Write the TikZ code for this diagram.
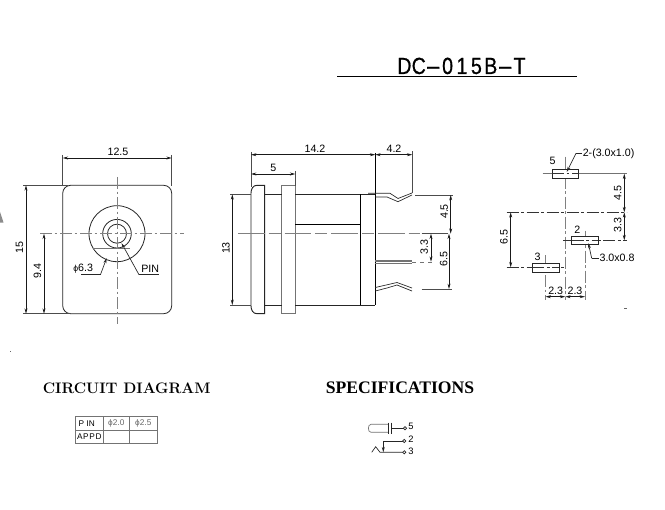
\documentclass[tikz,border=0pt]{standalone}
\usepackage{fontspec}
\setmainfont{Liberation Sans}
\newfontfamily\serifb{Liberation Serif}
\newfontfamily\lmb{Latin Modern Roman}
\newfontfamily\titlef[FakeStretch=0.84,FakeBold=0.6]{Liberation Sans}
\usetikzlibrary{arrows.meta}
\newcommand{\mch}[1]{\makebox[10.8pt]{#1}}
\newcommand{\mhy}{\makebox[10.8pt]{\scalebox{2.5}[1]{-}}}
\tikzset{
  outline/.style={draw=black!85,line width=0.6pt},
  softline/.style={draw=black!55,line width=0.7pt},
  thin ext/.style={draw=black!70,line width=0.5pt},
  center line/.style={draw=black!50,line width=0.7pt,dash pattern=on 9pt off 2pt on 2pt off 2pt},
  long center/.style={draw=black!50,line width=0.7pt,dash pattern=on 20pt off 3pt on 9pt off 3pt},
  fine center/.style={draw=black!80,line width=0.5pt,dash pattern=on 9pt off 2pt on 2pt off 2pt},
  dimline/.style={draw=black!90,line width=0.55pt,{Stealth[length=4pt,width=2.2pt]}-{Stealth[length=4pt,width=2.2pt]}},
  leader/.style={draw=black!85,line width=0.5pt},
  leadertip/.style={draw=black!85,line width=0.5pt,-{Stealth[length=4pt,width=2.2pt]}},
  lab/.style={inner sep=0pt,font=\fontsize{8}{8}\selectfont,text=black},
  vlab/.style={lab,rotate=90},
  tablab/.style={inner sep=0pt,font=\fontsize{6.2}{6.2}\selectfont,text=black},
  tablabg/.style={tablab,text=black!60},
  symlab/.style={inner sep=0pt,font=\fontsize{7}{7}\selectfont,text=black},
  terminal/.style={draw=black!85,line width=0.5pt,fill=white}
}
\begin{document}
\begin{tikzpicture}[x=0.75pt,y=-0.75pt]
\useasboundingbox (0,0) rectangle (665,510);
\fill[white] (0,0) rectangle (665,510);

% title
\node[inner sep=0pt,anchor=base,font=\titlef\fontsize{17.5}{17.5}\selectfont] (title) at (462,74) {\mch{D}\mch{C}\mhy\mch{0}\mch{1}\mch{5}\mch{B}\mhy\mch{T}};
\draw[draw=black,line width=0.6pt] (337,76.3) -- (577,76.3);

% stray marks
\fill[black!45] (0,212) -- (3.5,222.5) -- (0,222.5) -- cycle;
\fill[black!60] (10.4,351.4) rectangle (11.2,352.1);
\draw[black!60,line width=0.4pt] (624,308.3) -- (626.5,308.3);

% ===== front view
\draw[outline,rounded corners=6pt] (62.7,185.3) rectangle (171.7,313.7);
\draw[outline] (117,233.7) circle[radius=28];
\draw[outline] (117,233.7) circle[radius=14.3];
\draw[outline] (117,233.7) circle[radius=9.5];
\draw[softline,line width=0.9pt] (93,248.3) -- (130,248.3);
\draw[center line] (40,233.7) -- (184,233.7);
\draw[center line] (117,177) -- (117,324);
% dims
\draw[thin ext] (62.7,155) -- (62.7,186);
\draw[thin ext] (171.7,155) -- (171.7,186);
\draw[thin ext] (23,185.3) -- (68,185.3);
\draw[thin ext] (23,313.7) -- (70,313.7);
\draw[dimline] (62.7,158) -- (171.7,158);
\draw[dimline] (26,185.3) -- (26,313.7);
\draw[dimline] (44,233.7) -- (44,313.7);
\node[lab] (fw) at (118,152) {12.5};
\node[vlab] (fh) at (19.5,247.5) {15};
\node[vlab] (fc) at (37.5,271) {9.4};
\node[lab,anchor=west] (fphi) at (73,269) {{\fontsize{6.5}{6.5}\selectfont ϕ}6.3};
\node[lab,anchor=west] (fpin) at (141,269) {PIN};
\draw[leader] (81,274) -- (100.7,274);
\draw[leadertip] (100.7,274) -- (106.7,258);
\draw[leader] (139,274.7) -- (158.5,274.7);
\draw[leadertip] (139,274.7) -- (121.5,243);

% ===== side view
\draw[outline,line width=0.7pt] (264.7,185.3) -- (257,185.3) .. controls (253,185.3) and (251,189) .. (251,193) -- (251,306) .. controls (251,310) and (253,313.7) .. (257,313.7) -- (264.7,313.7) -- cycle;
\draw[softline] (281.7,185.3) rectangle (295.3,313.7);
\draw[outline] (264.7,194.3) -- (281.7,194.3);
\draw[outline] (264.7,305) -- (281.7,305);
\draw[outline] (295.3,194.3) -- (375.3,194.3);
\draw[outline] (295.3,305) -- (375.3,305);
\draw[draw=black,line width=0.7pt] (375.3,153) -- (375.3,305);
\draw[draw=black,line width=0.7pt] (360.7,194.3) -- (360.7,305);
\draw[draw=black,line width=0.7pt] (295.3,224.3) -- (360.7,224.3);
\draw[long center] (238,233.7) -- (420,233.7);
% pins
\draw[leader] (368,193.3) -- (390,193.3) -- (398,198.5) -- (412,193);
\draw[leader] (375.3,197) -- (387,197) -- (398,201.7) -- (412,195);
\draw[softline,line width=0.8pt] (375.3,261) -- (412.3,261);
\draw[softline,line width=0.8pt] (375.3,263.8) -- (412.3,263.8);
\draw[softline,dashed,line width=0.5pt] (412.3,262) -- (435,262);
\draw[leader] (375.3,287.5) -- (397,282.5) -- (412,288);
\draw[leader] (375.3,291) -- (387,288) -- (397,285) -- (412,291);
% dims
\draw[thin ext] (251,152) -- (251,187);
\draw[thin ext] (295.3,171) -- (295.3,186);
\draw[thin ext] (412.3,151.5) -- (412.3,193);
\draw[thin ext] (230,194.3) -- (251,194.3);
\draw[thin ext] (230,305) -- (251,305);
\draw[thin ext] (415,195) -- (453,195);
\draw[thin ext] (421.7,289) -- (452,289);
\draw[draw=black!70,line width=0.9pt] (421.5,233.7) -- (448,233.7);
\draw[dimline] (251,154.7) -- (375.3,154.7);
\draw[dimline] (375.3,154.7) -- (412.3,154.7);
\draw[dimline] (251,174) -- (295.3,174);
\draw[dimline] (232.3,194.3) -- (232.3,305);
\draw[dimline] (450.7,195) -- (450.7,233.7);
\draw[dimline] (449,233.7) -- (449,289);
\draw[dimline] (431,233.7) -- (431,261.7);
\node[lab] (s142) at (315,148.3) {14.2};
\node[lab] (s42) at (394,148.3) {4.2};
\node[lab] (s5) at (273.3,168) {5};
\node[vlab] (s13) at (226,248) {13};
\node[vlab] (s45) at (444.3,211.5) {4.5};
\node[vlab] (s33) at (424.3,247.3) {3.3};
\node[vlab] (s65) at (443.7,259.3) {6.5};

% ===== footprint
\draw[center line] (565.3,156.7) -- (565.3,300);
\draw[center line] (585,230.7) -- (585,300);
\draw[center line] (545.5,255) -- (545.5,300);
\draw[softline] (542.7,173.7) -- (552,173.7);
\draw[softline] (578.7,173.7) -- (626.7,173.7);
\draw[fine center] (506.7,212.3) -- (626.7,212.3);
\draw[fine center] (563.3,240.3) -- (626.7,240.3);
\draw[fine center] (506.7,267.3) -- (566,267.3);
\draw[outline,fill=white] (552,169.3) rectangle (578.7,178.3);
\draw[outline,fill=white] (571.7,236.7) rectangle (598.3,244);
\draw[outline,fill=white] (532.3,263.3) rectangle (559,272);
\draw[fine center] (552,173.7) -- (578.7,173.7);
\draw[fine center] (571.7,240.3) -- (598.3,240.3);
\draw[fine center] (532.3,267.5) -- (559,267.5);
\draw[dimline] (624.3,173.7) -- (624.3,212.3);
\draw[dimline] (624.3,212.3) -- (624.3,240.3);
\draw[dimline] (510.7,212.3) -- (510.7,267.3);
\draw[dimline] (545.5,296.7) -- (565.3,296.7);
\draw[dimline] (565.3,296.7) -- (585,296.7);
\node[lab] (p5) at (552.7,161) {5};
\node[lab] (p2) at (577.3,229.3) {2};
\node[lab] (p3) at (537.7,256.7) {3};
\node[lab,anchor=west] (psz) at (582.5,153.3) {2-(3.0x1.0)};
\node[lab,anchor=west] (psy) at (599.3,258.3) {3.0x0.8};
\draw[leader] (582,153.3) -- (576,153.3);
\draw[leadertip] (576,153.3) -- (566.7,172);
\draw[leader] (599,258.3) -- (591.7,258.3);
\draw[leadertip] (591.7,258.3) -- (588.3,243);
\node[vlab] (d45) at (617.7,192.7) {4.5};
\node[vlab] (d33) at (617.7,225) {3.3};
\node[vlab] (d65) at (504,237.3) {6.5};
\node[lab] (d23a) at (555.7,290.7) {2.3};
\node[lab] (d23b) at (575,290.7) {2.3};

% ===== headings
\node[inner sep=0pt,font=\lmb\fontsize{11.4}{11.4}\selectfont\bfseries] (hc) at (126.7,388) {CIRCUIT DIAGRAM};
\node[inner sep=0pt,font=\serifb\fontsize{13.2}{13.2}\selectfont\bfseries] (hs) at (400,388) {SPECIFICATIONS};

% ===== table
\draw[softline] (75.7,416.7) rectangle (157.7,443.7);
\draw[softline] (75.7,430) -- (157.7,430);
\draw[softline] (103.3,416.7) -- (103.3,443.7);
\draw[softline] (129.3,416.7) -- (129.3,443.7);
\node[tablab] (t1) at (86.7,423.3) {P IN};
\node[tablab] (t2) at (89.3,436.7) {A\kern.5pt P\kern.5pt P\kern.5pt D};
\node[tablabg] (t3) at (116.3,423.3) {ϕ2.0};
\node[tablabg] (t4) at (143.3,423.3) {ϕ2.5};

% ===== symbol
\draw[softline,line width=0.5pt] (388.3,424.3) -- (371,424.3) .. controls (367.5,424.3) and (367.5,432.3) .. (371,432.3) -- (388.3,432.3);
\draw[outline] (388.3,422.7) -- (388.3,434);
\draw[outline] (391,422.7) -- (391,434);
\draw[leader] (391,428.3) -- (405,428.3);
\draw[terminal] (405,428.3) circle[radius=1.6];
\node[symlab] (y5) at (411,426) {5};
\draw[leader] (404.3,441) -- (383.3,441);
\draw[leadertip] (383.3,441) -- (383.3,452.3);
\draw[leader] (371.7,452.3) -- (375.7,446.7) -- (380,452.3) -- (404.3,452.3);
\draw[terminal] (404.3,441) circle[radius=1.6];
\draw[terminal] (404.3,452.3) circle[radius=1.6];
\node[symlab] (y2) at (411,439.3) {2};
\node[symlab] (y3) at (411,451.7) {3};
\end{tikzpicture}
\end{document}
